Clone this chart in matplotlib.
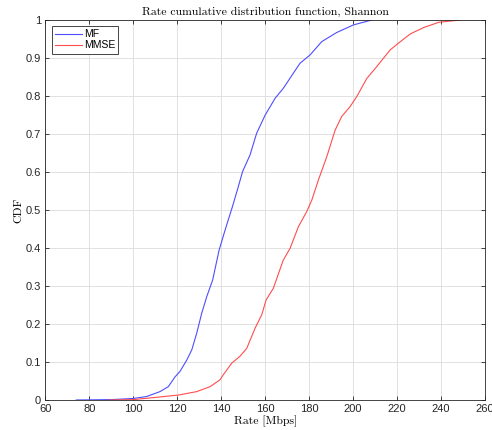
import numpy as np
import matplotlib
matplotlib.use('Agg')
import matplotlib.pyplot as plt

# MF rate CDF (rate in Mbps, cdf)
mf_rate = [74, 90, 100, 106, 112.1, 115.9, 119, 121.2, 124.3, 126.6, 128.8, 131.1,
           133.4, 136.1, 139, 142, 145.1, 147.5, 149.7, 153.1, 156.1, 160, 164.5,
           168.2, 172.8, 175.8, 180.4, 185.7, 192.5, 200.1, 208.5]
mf_cdf = [0, 0.001, 0.004, 0.009, 0.022, 0.035, 0.061, 0.075, 0.105, 0.132, 0.175,
          0.228, 0.272, 0.316, 0.394, 0.452, 0.509, 0.556, 0.601, 0.645, 0.702,
          0.75, 0.794, 0.82, 0.86, 0.886, 0.908, 0.943, 0.967, 0.987, 1.0]

# MMSE rate CDF
mmse_rate = [89, 100, 107, 120.5, 128.8, 134.9, 139.4, 140.9, 144.8, 148.5, 151.6,
             155.4, 158.4, 160.4, 163.7, 168.2, 171.3, 175.1, 178.9, 181.2, 184.2,
             188, 191.8, 194.8, 198.6, 201.6, 206.2, 210.7, 216.8, 220.6, 225.9,
             232, 239, 249]
mmse_cdf = [0, 0.001, 0.005, 0.013, 0.022, 0.035, 0.053, 0.066, 0.097, 0.115, 0.136,
            0.189, 0.224, 0.263, 0.294, 0.368, 0.399, 0.456, 0.496, 0.526, 0.579,
            0.64, 0.71, 0.746, 0.772, 0.798, 0.846, 0.877, 0.921, 0.939, 0.963,
            0.98, 0.994, 1.0]

xticks = list(range(60, 261, 20))
yticks = [0, 0.1, 0.2, 0.3, 0.4, 0.5, 0.6, 0.7, 0.8, 0.9, 1]
ytick_labels = ['0', '0.1', '0.2', '0.3', '0.4', '0.5', '0.6', '0.7', '0.8', '0.9', '1']

plt.rcParams['font.family'] = ['Liberation Sans', 'DejaVu Sans']
plt.rcParams['axes.unicode_minus'] = False

fig = plt.figure(figsize=(4.92, 4.30), dpi=100)
ax = fig.add_axes([0.0923, 0.0698, 0.8935, 0.8837])

ax.plot(mf_rate, mf_cdf, color=(0.3, 0.3, 1.0), lw=0.8, label='MF')
ax.plot(mmse_rate, mmse_cdf, color=(1.0, 0.3, 0.3), lw=0.8, label='MMSE')

ax.set_xlim(60, 260)
ax.set_ylim(0, 1)
ax.set_xticks(xticks)
ax.set_yticks(yticks)
ax.set_yticklabels(ytick_labels)
ax.tick_params(direction='in', top=True, right=True, length=3, width=0.6,
               labelsize=8, colors='#262626', pad=3)
ax.grid(True, color='#dcdcdc', lw=0.6)
for s in ax.spines.values():
    s.set_color('#262626')
    s.set_linewidth(0.6)

ax.set_title('Rate cumulative distribution function, Shannon', family='cmr10',
             fontsize=8.5, pad=4)
ax.set_xlabel('Rate [Mbps]', family='cmr10', fontsize=8.5, labelpad=1)
ax.set_ylabel('CDF', family='cmr10', fontsize=8.5, labelpad=2)

leg = ax.legend(loc='upper left', fontsize=7.5, fancybox=False, framealpha=1,
                edgecolor='#262626', handlelength=2.6, handletextpad=0.2,
                borderpad=0.3, labelspacing=0.1, borderaxespad=0.6)
leg.get_frame().set_linewidth(0.6)

fig.savefig('out.png', dpi=100)
